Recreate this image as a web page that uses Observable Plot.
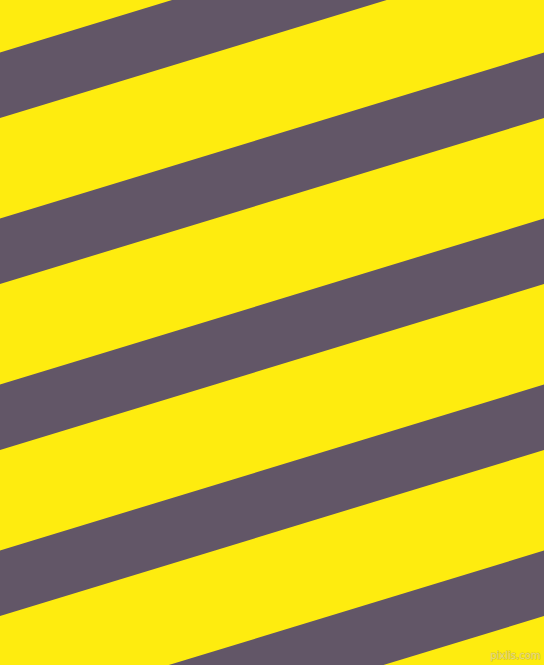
<!DOCTYPE html>
<html>
<head>
<meta charset="utf-8">
<script src="https://cdn.jsdelivr.net/npm/d3@7"></script>
<script src="https://cdn.jsdelivr.net/npm/@observablehq/plot@0.6"></script>
<style>
  html, body { margin: 0; padding: 0; background: #FEEC0F; overflow: hidden; }
  svg { display: block; }
</style>
</head>
<body>
<div id="chart"></div>
<script>
// Stripe data: left-edge top intercepts (px in chart units), rise across width, band thickness
const stripeIds = [0, 1, 2, 3, 4, 5];
const leftTop = [-113.5, 52.5, 218.5, 384.5, 550.5, 716.5];
const rise = 166;
const bandThickness = 65.5;
const xExtent = [0, 544];
const yExtent = [0, 665];
const watermark = ["pixlis.com"];

const rows = [];
stripeIds.forEach((id, i) => {
  rows.push({ s: id, x: xExtent[0], y1: leftTop[i], y2: leftTop[i] + bandThickness });
  rows.push({ s: id, x: xExtent[1], y1: leftTop[i] - rise, y2: leftTop[i] - rise + bandThickness });
});

const chart = Plot.plot({
  width: 544,
  height: 665,
  margin: 0,
  x: { domain: xExtent, axis: null },
  y: { domain: yExtent, reverse: true, axis: null },
  style: { background: "#FEEC0F" },
  marks: [
    Plot.areaY(rows, { x: "x", y1: "y1", y2: "y2", z: "s", fill: "#625667", clip: true, curve: "linear" }),
    Plot.text(watermark, { x: 540, y: 655, text: d => d, textAnchor: "end", fontSize: 10, fontFamily: "DejaVu Sans", fill: "#eee07a", stroke: "#c9b93a", strokeWidth: 0.8, paintOrder: "stroke" })
  ]
});
document.getElementById("chart").append(chart);
</script>
</body>
</html>
